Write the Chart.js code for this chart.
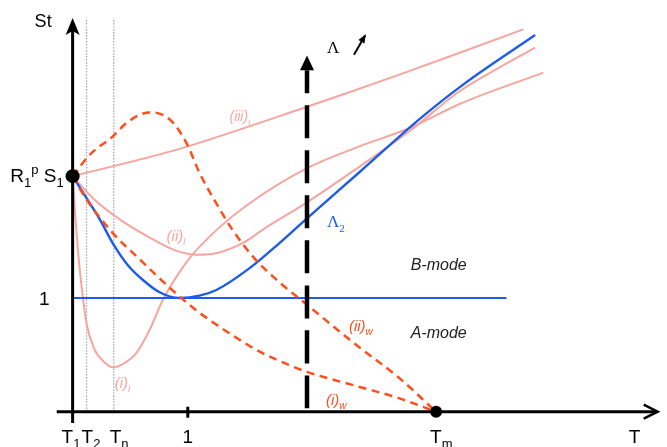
<!DOCTYPE html>
<html><head><meta charset="utf-8">
<script src="https://cdn.jsdelivr.net/npm/chart.js@4.4.1/dist/chart.umd.min.js"></script>
<style>html,body{margin:0;padding:0;background:#fff;}canvas{display:block;}</style>
</head><body>
<canvas id="c" width="667" height="447"></canvas>
<script>
// ---- data (x in units of T, y in units of St) ----
const xTickValues = [0, 0.121, 0.357, 1, 3.156, 4.88];
const xTickMain   = ['T', 'T', 'T', '1', 'T', 'T'];
const xTickSub    = ['1', '2', 'n', '', 'm', ''];
const yStart = 2.07;          // R1^p S1
const yUnit = 1;              // St = 1
const T2 = 0.121, Tn = 0.357, Tm = 3.156;

const iiiL_x = [0, 0.928, 2.035, 2.831, 3.913];
const iiiL_y = [2.07, 2.31, 2.68, 2.96, 3.36];

const iiL_x = [0, 0.193, 0.409, 0.669, 0.885, 1.075, 1.274, 1.490, 1.681, 2.035, 2.485, 2.944, 3.350, 3.696, 4.016];
const iiL_y = [2.07, 1.86, 1.69, 1.53, 1.42, 1.38, 1.40, 1.49, 1.62, 1.84, 2.15, 2.48, 2.81, 3.02, 3.20];

const iL_x = [0, 0.020, 0.046, 0.081, 0.124, 0.193, 0.271, 0.349, 0.453, 0.556, 0.669, 0.782, 0.911, 1.041, 1.274, 1.534, 2.035, 2.485, 2.944, 3.350, 4.086];
const iL_y = [2.07, 1.77, 1.42, 1.07, 0.76, 0.54, 0.44, 0.39, 0.43, 0.52, 0.72, 0.98, 1.20, 1.38, 1.62, 1.83, 2.14, 2.33, 2.50, 2.70, 2.98];

const L2_x = [0, 0.132, 0.236, 0.349, 0.478, 0.608, 0.755, 0.928, 1.101, 1.248, 1.534, 1.793, 2.035, 2.485, 3.022, 3.411, 4.016];
const L2_y = [2.07, 1.86, 1.69, 1.48, 1.29, 1.16, 1.05, 1.00, 1.02, 1.07, 1.26, 1.48, 1.70, 2.10, 2.58, 2.89, 3.31];

const iiW_x = [0, 0.150, 0.349, 0.470, 0.669, 0.842, 0.989, 1.101, 1.231, 1.387, 1.577, 1.793, 2.035, 2.459, 2.831, 3.156];
const iiW_y = [2.07, 2.26, 2.42, 2.54, 2.63, 2.57, 2.36, 2.10, 1.86, 1.60, 1.35, 1.14, 0.94, 0.59, 0.30, 0];

const iW_x = [0, 0.124, 0.349, 0.582, 0.842, 1.075, 1.361, 1.620, 1.880, 2.035, 2.485, 2.831, 3.156];
const iW_y = [2.07, 1.86, 1.57, 1.34, 1.09, 0.89, 0.69, 0.53, 0.41, 0.35, 0.22, 0.12, 0];

const unitLine_x = [0, 3.766];
const lambdaLine_x = 2.035;
const lambdaLine_y = [0.03, 3.0];
const lambdaTip_y = 3.13;

// ---- build ----
const pts = (xs, ys) => xs.map((v, i) => ({x: v, y: ys[i]}));
const PINK = 'rgb(246,165,160)', BLUE = 'rgb(28,92,232)', RED = 'rgb(255,78,28)';

const base = {pointRadius: 0, fill: false, cubicInterpolationMode: 'monotone'};
const datasets = [
  {...base, data: pts([0, Tm], [yStart, 0]), showLine: false, pointRadius: [7, 6], pointBackgroundColor: '#000', pointBorderWidth: 0, order: 0},
  {...base, data: pts([lambdaLine_x, lambdaLine_x], lambdaLine_y), borderColor: '#000', borderWidth: 4.5, borderDash: [33, 12], borderCapStyle: 'butt', order: 1},
  {...base, data: pts(iiW_x, iiW_y), borderColor: RED, borderWidth: 2.5, borderDash: [8, 5.5], order: 2},
  {...base, data: pts(iW_x, iW_y), borderColor: RED, borderWidth: 2.5, borderDash: [8, 5.5], order: 3},
  {...base, data: pts(L2_x, L2_y), borderColor: BLUE, borderWidth: 2.4, order: 4},
  {...base, data: pts(unitLine_x, [yUnit, yUnit]), borderColor: BLUE, borderWidth: 2, order: 5},
  {...base, data: pts(iL_x, iL_y), borderColor: PINK, borderWidth: 2, order: 6},
  {...base, data: pts(iiL_x, iiL_y), borderColor: PINK, borderWidth: 2, order: 7},
  {...base, data: pts(iiiL_x, iiiL_y), borderColor: PINK, borderWidth: 2, cubicInterpolationMode: 'default', tension: 0.3, order: 8},
  {...base, data: pts([T2, T2], [0, 3.47]), borderColor: '#a8a8a8', borderWidth: 1.3, borderDash: [1.5, 1.5], order: 9},
  {...base, data: pts([Tn, Tn], [0, 3.47]), borderColor: '#a8a8a8', borderWidth: 1.3, borderDash: [1.5, 1.5], order: 10},
];

function rich(ctx, x, y, segs, o) {
  const sz = o.size, fam = o.family, st = o.style || 'normal';
  const subSz = Math.round(sz * (o.subScale || 0.68));
  const fontOf = k => `${st} ${k ? subSz : sz}px ${fam}`;
  let w = 0;
  segs.forEach(s => { ctx.font = fontOf(s[1]); w += ctx.measureText(s[0]).width; });
  let cx = o.align === 'right' ? x - w : o.align === 'center' ? x - w / 2 : x;
  ctx.fillStyle = o.color || '#000';
  ctx.textAlign = 'left'; ctx.textBaseline = 'alphabetic';
  segs.forEach(s => {
    ctx.font = fontOf(s[1]);
    const dy = s[1] === 1 ? sz * 0.28 : s[1] === 2 ? -sz * 0.42 : 0;
    ctx.fillText(s[0], cx, y + dy);
    cx += ctx.measureText(s[0]).width;
  });
}

const annot = {
  id: 'annot',
  afterDatasetsDraw(chart) {
    const ctx = chart.ctx, sx = chart.scales.x, sy = chart.scales.y;
    const X = v => sx.getPixelForValue(v), Y = v => sy.getPixelForValue(v);
    ctx.save();
    ctx.strokeStyle = '#000'; ctx.fillStyle = '#000'; ctx.lineCap = 'butt';
    // x axis
    const y0 = Y(0), xa = X(-0.138), xb = X(5.08);
    ctx.lineWidth = 3;
    ctx.beginPath(); ctx.moveTo(xa, y0); ctx.lineTo(xb - 2, y0); ctx.stroke();
    ctx.beginPath(); ctx.moveTo(xb - 14, y0 - 7); ctx.lineTo(xb, y0); ctx.lineTo(xb - 14, y0 + 7); ctx.lineWidth = 2.5; ctx.stroke();
    // y axis
    const x0 = X(0), ya = Y(-0.1), yb = Y(3.46);
    ctx.lineWidth = 3;
    ctx.beginPath(); ctx.moveTo(x0, ya); ctx.lineTo(x0, yb + 10); ctx.stroke();
    ctx.beginPath(); ctx.moveTo(x0, yb); ctx.lineTo(x0 + 7, yb + 17); ctx.lineTo(x0, yb + 13); ctx.lineTo(x0 - 7, yb + 17); ctx.closePath(); ctx.fill();
    // tick at 1
    ctx.beginPath(); ctx.moveTo(X(1), y0 - 5); ctx.lineTo(X(1), y0 + 6); ctx.stroke();
    // Lambda arrow head
    const lx = X(lambdaLine_x), lt = Y(lambdaTip_y), lb = Y(lambdaLine_y[1]);
    ctx.beginPath(); ctx.moveTo(lx, lt); ctx.lineTo(lx + 7, lb); ctx.lineTo(lx - 7, lb); ctx.closePath(); ctx.fill();
    // small diagonal arrow
    const ax1 = X(2.443), ay1 = Y(3.137), ax2 = X(2.538), ay2 = Y(3.304);
    ctx.lineWidth = 2;
    ctx.beginPath(); ctx.moveTo(ax1, ay1); ctx.lineTo(ax2, ay2); ctx.stroke();
    const ang = Math.atan2(ay2 - ay1, ax2 - ax1);
    ctx.beginPath(); ctx.moveTo(ax2 + 2 * Math.cos(ang), ay2 + 2 * Math.sin(ang));
    ctx.lineTo(ax2 - 7 * Math.cos(ang) + 3.5 * Math.sin(ang), ay2 - 7 * Math.sin(ang) - 3.5 * Math.cos(ang));
    ctx.lineTo(ax2 - 7 * Math.cos(ang) - 3.5 * Math.sin(ang), ay2 - 7 * Math.sin(ang) + 3.5 * Math.cos(ang));
    ctx.closePath(); ctx.fill();

    const SANS = '"Liberation Sans", Arial, sans-serif', SERIF = '"Liberation Serif", "Times New Roman", serif';
    // x tick labels
    const dx = [-11, -5, -4, 0, -6, 0];
    xTickValues.forEach((v, i) => {
      const segs = [[xTickMain[i], 0]];
      if (xTickSub[i]) segs.push([xTickSub[i], 1]);
      const center = xTickSub[i] === '' ;
      rich(ctx, X(v) + dx[i], 443, segs, {size: 19, family: SANS, align: center ? 'center' : 'left', subScale: 0.7});
    });
    // y labels
    rich(ctx, X(0) - 9, Y(yStart) + 6, [['R', 0], ['1', 1], ['p', 2], [' S', 0], ['1', 1]], {size: 19, family: SANS, align: 'right', subScale: 0.7});
    rich(ctx, X(0) - 23, Y(yUnit) + 7, [['1', 0]], {size: 19, family: SANS, align: 'right'});
    rich(ctx, X(0) - 38, Y(3.38), [['St', 0]], {size: 18, family: SANS, align: 'left'});
    // annotations
    rich(ctx, X(1.362), Y(2.557), [['(iii)', 0], ['l', 1]], {size: 14, family: SANS, style: 'italic', color: PINK, subScale: 0.6});
    rich(ctx, X(0.816), Y(1.501), [['(ii)', 0], ['l', 1]], {size: 15, family: SANS, style: 'italic', color: PINK, subScale: 0.6});
    rich(ctx, X(0.366), Y(0.208), [['(i)', 0], ['l', 1]], {size: 15, family: SANS, style: 'italic', color: PINK, subScale: 0.6});
    rich(ctx, X(2.208), Y(1.624), [['Λ', 0], ['2', 1]], {size: 17, family: SERIF, color: BLUE, subScale: 0.65});
    rich(ctx, X(2.935), Y(1.246), [['B-mode', 0]], {size: 16, family: SANS, style: 'italic', color: '#222'});
    rich(ctx, X(2.935), Y(0.648), [['A-mode', 0]], {size: 16, family: SANS, style: 'italic', color: '#222'});
    rich(ctx, X(2.399), Y(0.710), [['(ii)', 0], ['w', 1]], {size: 15, family: SANS, style: 'italic', color: RED, subScale: 0.65});
    rich(ctx, X(2.200), Y(0.059), [['(i)', 0], ['w', 1]], {size: 15, family: SANS, style: 'italic', color: RED, subScale: 0.65});
    rich(ctx, X(2.208), Y(3.155), [['Λ', 0]], {size: 17, family: SERIF, color: '#000'});
    ctx.restore();
  }
};

new Chart(document.getElementById('c'), {
  type: 'line',
  data: {datasets},
  options: {
    responsive: false,
    animation: false,
    devicePixelRatio: 1,
    parsing: true,
    layout: {padding: {left: 56.5, right: 5, top: 18, bottom: 23.9}},
    plugins: {legend: {display: false}, tooltip: {enabled: false}},
    elements: {line: {borderJoinStyle: 'round'}},
    scales: {
      x: {type: 'linear', display: false, min: -0.14, max: 5.1},
      y: {type: 'linear', display: false, min: -0.1, max: 3.46}
    }
  },
  plugins: [annot]
});
</script>
</body></html>
